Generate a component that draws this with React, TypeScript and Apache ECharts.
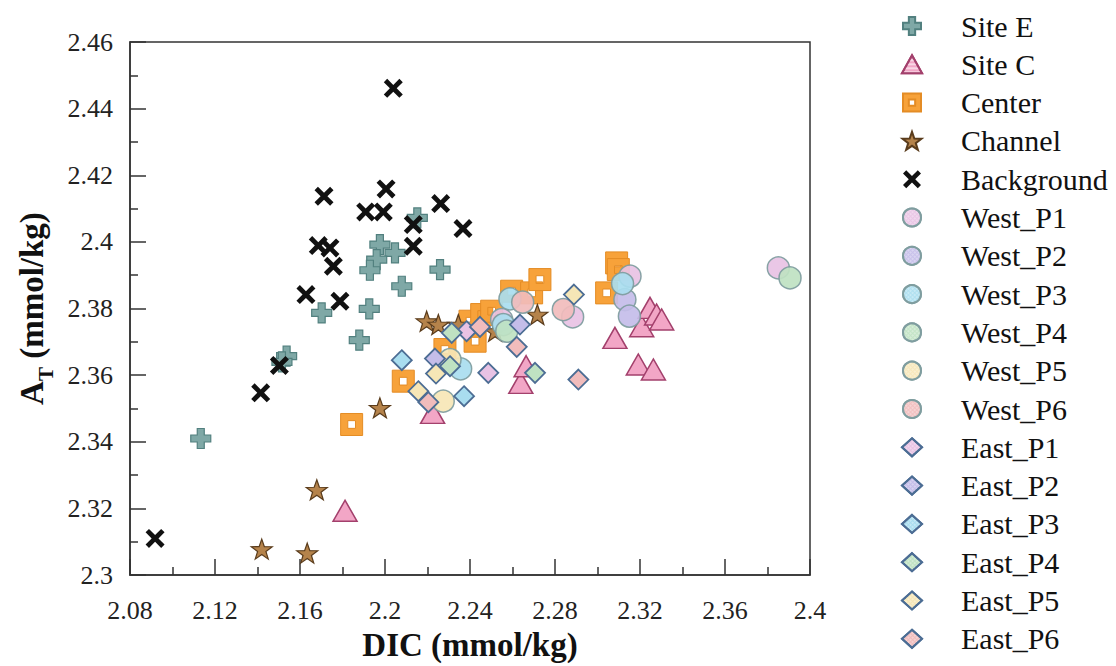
import React, { useEffect, useRef } from "react";
import * as echarts from "echarts";

const FONT = "Liberation Serif";

// ---- data (DIC, AT) in mmol/kg ----
const siteE = [
  [2.2152, 2.4072], [2.1976, 2.3992], [2.2047, 2.3967], [2.1961, 2.3947], [2.1929, 2.3915],
  [2.2079, 2.3867], [2.2259, 2.3917], [2.1926, 2.3799], [2.1702, 2.3787], [2.1879, 2.3705],
  [2.1537, 2.3657], [2.1515, 2.364], [2.1133, 2.341],
];
const siteC = [
  [2.1812, 2.3193], [2.2224, 2.3487], [2.2639, 2.3577], [2.2664, 2.3627], [2.3082, 2.3712],
  [2.3192, 2.3632], [2.3263, 2.3617], [2.3208, 2.3747], [2.3247, 2.3802], [2.3278, 2.3782],
  [2.3302, 2.3767],
];
const center = [
  [2.1843, 2.3452], [2.2086, 2.3582], [2.2282, 2.3677], [2.2424, 2.3702], [2.24, 2.3762],
  [2.2455, 2.3782], [2.2502, 2.3792], [2.2596, 2.3852], [2.269, 2.3847], [2.2729, 2.3887],
  [2.3043, 2.3847], [2.309, 2.3937], [2.3098, 2.3917],
];
const channel = [
  [2.142, 2.3078], [2.1634, 2.3066], [2.1679, 2.3256], [2.1976, 2.3502], [2.2196, 2.3762],
  [2.2251, 2.3752], [2.2345, 2.3752], [2.2518, 2.3732], [2.2717, 2.3782],
];
const background = [
  [2.2039, 2.4461], [2.1713, 2.4137], [2.2005, 2.4159], [2.1909, 2.409], [2.1992, 2.409],
  [2.2262, 2.4115], [2.2133, 2.4052], [2.2367, 2.404], [2.2133, 2.3987], [2.1686, 2.3989],
  [2.1741, 2.3982], [2.1757, 2.3927], [2.1628, 2.3842], [2.1788, 2.3822], [2.1503, 2.3629],
  [2.1415, 2.3547], [2.0918, 2.311],
];
const westP1 = [[2.2549, 2.3767], [2.2883, 2.3775], [2.3153, 2.3897], [2.3851, 2.3922]];
const westP2 = [[2.3129, 2.3827], [2.315, 2.3777]];
const westP3 = [[2.2588, 2.3829], [2.2557, 2.3752], [2.2356, 2.3619], [2.3118, 2.3875]];
const westP4 = [[2.2573, 2.3732], [2.3906, 2.3892]];
const westP5 = [[2.2306, 2.3647], [2.2274, 2.3522]];
const westP6 = [[2.2648, 2.3819], [2.2839, 2.3797]];
const eastP1 = [[2.2384, 2.3732], [2.2486, 2.3607]];
const eastP2 = [[2.2235, 2.365], [2.2635, 2.3752]];
const eastP3 = [[2.2079, 2.3645], [2.2372, 2.3537]];
const eastP4 = [[2.2314, 2.3727], [2.2306, 2.3627], [2.2706, 2.3607]];
const eastP5 = [[2.2889, 2.3842], [2.224, 2.3605], [2.2157, 2.3552]];
const eastP6 = [[2.2447, 2.3745], [2.262, 2.3685], [2.291, 2.3587], [2.2204, 2.3519]];

const westNames = ["West_P1", "West_P2", "West_P3", "West_P4", "West_P5", "West_P6"];
const eastNames = ["East_P1", "East_P2", "East_P3", "East_P4", "East_P5", "East_P6"];
const westData = [westP1, westP2, westP3, westP4, westP5, westP6];
const eastData = [eastP1, eastP2, eastP3, eastP4, eastP5, eastP6];
const pastel = ["#e8c2e4", "#c4bde9", "#a9ddef", "#bfe2c2", "#f6e6b6", "#f1bcbc"];

const PLUS = "path://M6.5,0H13.5V6.5H20V13.5H13.5V20H6.5V13.5H0V6.5H6.5Z";
const CROSS =
  "path://M3.6,0L10,6.4L16.4,0L20,3.6L13.6,10L20,16.4L16.4,20L10,13.6L3.6,20L0,16.4L6.4,10L0,3.6Z";
const STAR =
  "path://M10,0L12.35,6.76L19.51,6.91L13.8,11.24L15.88,18.09L10,14L4.12,18.09L6.2,11.24L0.49,6.91L7.65,6.76Z";
const HOLLOW = "path://M0,0H20V20H0Z M6.5,6.5V13.5H13.5V6.5Z";

const stripes = {
  symbol: "rect", symbolSize: 1, dashArrayX: [1, 0], dashArrayY: [1.5, 1.5],
  color: "rgba(255,255,255,0.55)",
};
const dots = {
  symbol: "circle", symbolSize: 0.9, dashArrayX: [2, 1], dashArrayY: [2, 1], rotation: 0.785,
  color: "rgba(255,255,255,0.45)",
};

export default function App() {
  const ref = useRef<HTMLDivElement>(null);
  useEffect(() => {
    const chart = echarts.init(ref.current!, null, { renderer: "svg" });
    const series: any[] = [
      {
        name: "Site E", type: "scatter", data: siteE, symbol: PLUS, symbolSize: 20,
        itemStyle: { color: "#7fa8a6", borderColor: "#52807f", borderWidth: 1.2, opacity: 1 },
      },
      {
        name: "Site C", type: "scatter", data: siteC, symbol: "triangle", symbolSize: [24, 21],
        itemStyle: { color: "#f2a6c6", borderColor: "#a3406c", borderWidth: 1.5, opacity: 1, decal: stripes },
      },
      {
        name: "Center", type: "scatter", data: center, symbol: HOLLOW, symbolSize: 22,
        itemStyle: { color: "#f7a23a", borderColor: "#e48c25", borderWidth: 1, opacity: 1 },
      },
      {
        name: "Channel", type: "scatter", data: channel, symbol: STAR, symbolSize: [21, 20],
        itemStyle: { color: "#b5834b", borderColor: "#5a3c1c", borderWidth: 1.2, opacity: 1 },
      },
      {
        name: "Background", type: "scatter", data: background, symbol: CROSS, symbolSize: 19,
        itemStyle: { color: "#111111", opacity: 1 },
      },
      ...westNames.map((n, i) => ({
        name: n, type: "scatter", data: westData[i], symbol: "circle", symbolSize: 22,
        itemStyle: { color: pastel[i], borderColor: "#7e9c9e", borderWidth: 1.5, opacity: 0.92, decal: dots },
      })),
      ...eastNames.map((n, i) => ({
        name: n, type: "scatter", data: eastData[i], symbol: "diamond", symbolSize: 20,
        itemStyle: { color: pastel[i], borderColor: "#4c6d94", borderWidth: 1.8, opacity: 1, decal: dots },
      })),
    ];
    chart.setOption({
      animation: false,
      backgroundColor: "#ffffff",
      textStyle: { fontFamily: FONT },
      grid: {
        left: 130, right: 306, top: 42, bottom: 89, containLabel: false,
        show: true, borderColor: "#333", borderWidth: 1.5,
      },
      legend: {
        orient: "vertical", left: 896, top: 6, itemWidth: 20, itemHeight: 18, itemGap: 8.3,
        textStyle: { fontFamily: FONT, fontSize: 30, lineHeight: 30, color: "#111", padding: [0, 0, 0, 34] },
        data: series.map((s) => s.name),
      },
      xAxis: {
        type: "value", min: 2.08, max: 2.4, interval: 0.04,
        name: "DIC (mmol/kg)", nameLocation: "middle", nameGap: 50,
        nameTextStyle: { fontFamily: FONT, fontSize: 33, fontWeight: "bold", color: "#111" },
        axisLine: { show: true, lineStyle: { color: "#333", width: 1.5 } },
        axisTick: { show: true, inside: true, length: 16, lineStyle: { color: "#333", width: 1.5 } },
        minorTick: { show: true, splitNumber: 2, length: 8, lineStyle: { color: "#333", width: 1.5 } },
        axisLabel: { fontFamily: FONT, fontSize: 26, color: "#222", margin: 22 },
        splitLine: { show: false },
      },
      yAxis: {
        type: "value", min: 2.3, max: 2.46, interval: 0.02,
        name: "{a|A}{b|T}{a| (mmol/kg)}", nameLocation: "middle", nameGap: 74, nameRotate: 90,
        nameTextStyle: {
          fontFamily: FONT, fontSize: 33, fontWeight: "bold", color: "#111",
          rich: {
            a: { fontFamily: FONT, fontSize: 33, fontWeight: "bold", color: "#111", padding: [0, 0, 8, 0] },
            b: { fontFamily: FONT, fontSize: 21, fontWeight: "bold", color: "#111", verticalAlign: "bottom" },
          },
        },
        axisLine: { show: true, lineStyle: { color: "#333", width: 1.5 } },
        axisTick: { show: true, inside: true, length: 16, lineStyle: { color: "#333", width: 1.5 } },
        minorTick: { show: true, splitNumber: 2, length: 8, lineStyle: { color: "#333", width: 1.5 } },
        axisLabel: { fontFamily: FONT, fontSize: 26, color: "#222", margin: 17 },
        splitLine: { show: false },
      },
      series,
    });
    return () => chart.dispose();
  }, []);
  return (
    <div
      ref={ref}
      style={{ width: 1116, height: 666, position: "absolute", left: 0, top: 0 }}
    />
  );
}
